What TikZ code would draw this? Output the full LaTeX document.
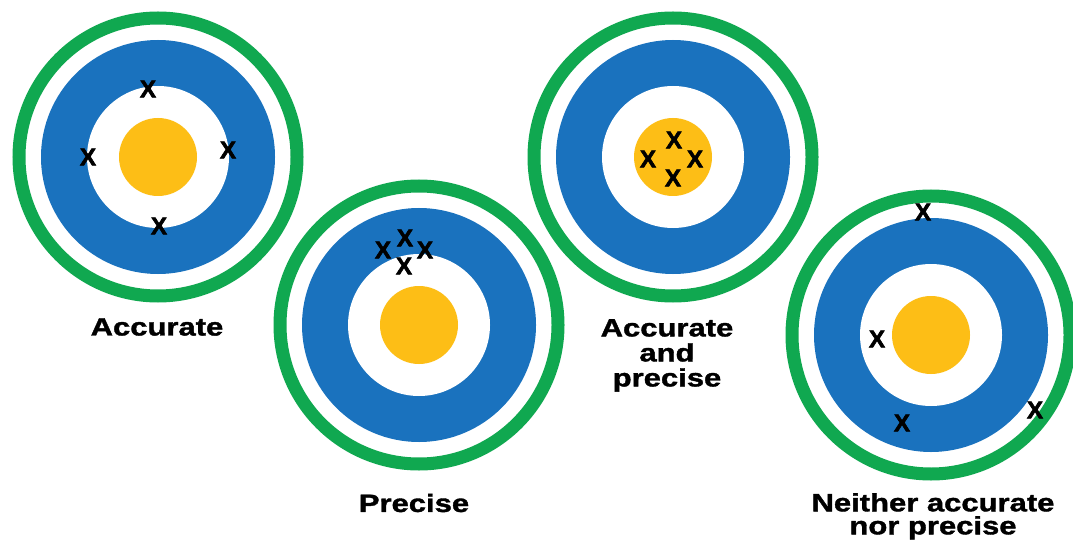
\documentclass[tikz,border=0pt]{standalone}
\usepackage{fontspec}
\setmainfont[FakeStretch=1.24,BoldFeatures={FakeBold=1.5}]{Liberation Sans}
\newfontfamily\hitfont[BoldFeatures={FakeBold=2.5}]{Liberation Sans}
\usetikzlibrary{positioning}
\definecolor{tgreen}{RGB}{16,168,80}
\definecolor{tblue}{RGB}{26,114,190}
\definecolor{tyellow}{RGB}{253,190,22}
\tikzset{
ring/.style={draw=tgreen,line width=13pt},
band/.style={fill=tblue},
hole/.style={fill=white},
bull/.style={fill=tyellow},
hit/.style={font=\hitfont\bfseries\fontsize{24}{24}\selectfont,inner sep=0pt},
lbl/.style={font=\bfseries\fontsize{25}{25}\selectfont,align=center,inner sep=0pt},
}
\begin{document}
\begin{tikzpicture}[x=1pt,y=-1pt]
	\useasboundingbox[fill=white] (0,0) rectangle (1073,540);

	\coordinate (acc) at (158,157);
	\coordinate (pre) at (419,325);
	\coordinate (both) at (673,157);
	\coordinate (none) at (931,335);

	\foreach \t in {acc,pre,both,none} {
		\draw[ring] (\t) circle[radius=139pt];
		\fill[band] (\t) circle[radius=117pt];
		\fill[hole] (\t) circle[radius=71pt];
		\fill[bull] (\t) circle[radius=39pt];
	}

	% hits
	\node[hit] (acc-t) at (148,89) {X};
	\node[hit] (acc-l) at (88,157) {X};
	\node[hit] (acc-r) at (228,150) {X};
	\node[hit] (acc-b) at (159,226) {X};

	\node[hit] (pre-l) at (383,250) {X};
	\node[hit] (pre-t) at (405,238) {X};
	\node[hit] (pre-r) at (425,250) {X};
	\node[hit] (pre-b) at (404,266) {X};

	\node[hit] (both-t) at (674,140) {X};
	\node[hit] (both-l) at (648,159) {X};
	\node[hit] (both-r) at (695,159) {X};
	\node[hit] (both-b) at (673,178) {X};

	\node[hit] (none-t) at (923,212) {X};
	\node[hit] (none-l) at (877,339) {X};
	\node[hit] (none-b) at (902,423) {X};
	\node[hit] (none-r) at (1035,410) {X};

	% captions
	\node[lbl] (acc-lbl) at (157,327) {Accurate};
	\node[lbl] (pre-lbl) at (414,503) {Precise};
	\node[lbl,anchor=north] (both-lbl) at (667,319) {Accurate\\and\\precise};
	\node[lbl,anchor=north,font=\bfseries\fontsize{25}{23}\selectfont] (none-lbl) at (933,493) {Neither accurate\\nor precise};
\end{tikzpicture}
\end{document}
